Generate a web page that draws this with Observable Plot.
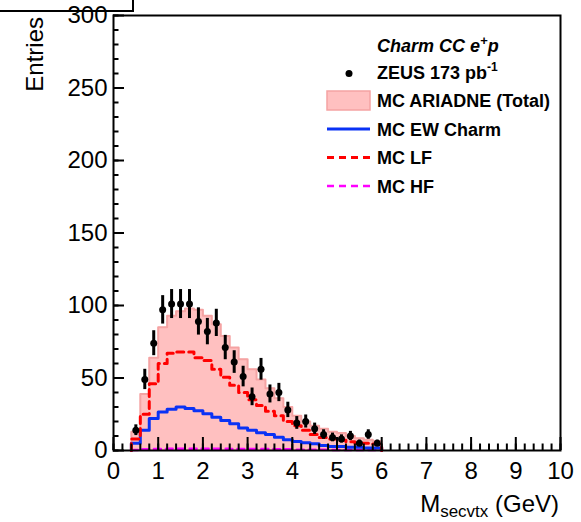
<!DOCTYPE html>
<html><head><meta charset="utf-8">
<script src="https://cdn.jsdelivr.net/npm/d3@7"></script>
<script src="https://cdn.jsdelivr.net/npm/@observablehq/plot@0.6"></script>
<style>body{margin:0;background:#fff;} svg{display:block}</style>
</head><body><div id="chart"></div>
<script>
// ---- data (bins of 0.2 GeV) ----
const binEdges = [0.4,0.6,0.8,1.0,1.2,1.4,1.6,1.8,2.0,2.2,2.4,2.6,2.8,3.0,3.2,3.4,3.6,3.8,4.0,4.2,4.4,4.6,4.8,5.0,5.2,5.4,5.6,5.8,6.0];
const zeusCounts = [14,49,74,97,101,101,101,89,82,88,71,61,51,37,56,39,40,28,19,20,15,11,9,8,10,5,11,5];
const zeusErrors = [3.7,7.0,8.6,9.8,10.0,10.0,10.0,9.4,9.1,9.4,8.4,7.8,7.1,6.1,7.5,6.2,6.3,5.3,4.4,4.5,3.9,3.3,3.0,2.8,3.2,2.2,3.3,2.2];
const mcTotal = [13,39,64,85,93,96,98,97,93,87,79,71,63,56,49,43,36,30,24,20,17,15,13,12,10,8.5,7.5,6.5];
const mcEWCharm = [5,14,22,26.5,28.5,30,29,27.5,25.3,23,20.7,18.5,15.6,14,12.2,11,9.2,7.4,6.2,5.3,4.6,3.4,2.8,2.8,2.3,2.3,1.8,1.8];
const mcLF = [8,25,46,60,67,68,68,64,62,56,50.5,45,40,35,31,27,24,20,17,14,11,9,8,7,6,5,5,4.5];
const mcHF = [0.3,0.8,1,1,1.2,1.2,1.2,1.2,1.2,1.2,1.2,1,1,1,1,1,0.8,0.8,0.6,0.6,0.5,0.5,0.4,0.4,0.3,0.3,0.3,0.3];
const xTickLabels = [0,1,2,3,4,5,6,7,8,9,10];
const yTickLabels = [0,50,100,150,200,250,300];
const legendTitle = ["Charm CC e", "+", "p"];
const legendLabels = ["ZEUS 173 pb", "MC ARIADNE (Total)", "MC EW Charm", "MC LF", "MC HF"];

// ---- layout ----
const W = 581, H = 522, mL = 113, mR = 21, mT = 15, mB = 72;
const pxX = 10 / (W - mL - mR), pxY = 300 / (H - mT - mB);
const FF = "'Liberation Sans', Arial, Helvetica, sans-serif";

function steps(vals) {
  const pts = [{x: binEdges[0], y: 0}];
  vals.forEach((v, i) => { pts.push({x: binEdges[i], y: v}); pts.push({x: binEdges[i + 1], y: v}); });
  pts.push({x: binEdges[binEdges.length - 1], y: 0});
  return pts;
}
const points = zeusCounts.map((v, i) => ({
  x: (binEdges[i] + binEdges[i + 1]) / 2, y: v, lo: v - zeusErrors[i], hi: v + zeusErrors[i]
}));
const xMinor = d3.range(0, 50.5, 1).map(k => k / 5);
const yMinor = d3.range(0, 301, 10);

const plot = Plot.plot({
  width: W, height: H, marginLeft: mL, marginRight: mR, marginTop: mT, marginBottom: mB,
  style: {fontFamily: FF, fontSize: "24px", background: "#fff", color: "#000"},
  x: {domain: [0, 10], ticks: xTickLabels, tickSize: 0, tickPadding: 11, label: null, tickFormat: d => String(d)},
  y: {domain: [0, 300], ticks: yTickLabels, tickSize: 0, tickPadding: 6, label: null, tickFormat: d => String(d)},
  marks: [
    Plot.area(steps(mcTotal), {x1: "x", y1: 0, y2: "y", fill: "#ffc0c0"}),
    Plot.line(steps(mcTotal), {x: "x", y: "y", stroke: "#f5a3a3", strokeWidth: 2}),
    Plot.line(steps(mcHF), {x: "x", y: "y", stroke: "#ff00ff", strokeWidth: 2.5, strokeDasharray: "7,5"}),
    Plot.line(steps(mcEWCharm), {x: "x", y: "y", stroke: "#0a32f5", strokeWidth: 3}),
    Plot.line(steps(mcLF), {x: "x", y: "y", stroke: "#ff0000", strokeWidth: 3, strokeDasharray: "7,5"}),
    Plot.ruleX(xMinor, {x: d => d, y1: 0, y2: 6.5 * pxY, strokeWidth: 2}),
    Plot.ruleX(xTickLabels, {x: d => d, y1: 0, y2: 13 * pxY, strokeWidth: 2}),
    Plot.ruleY(yMinor, {y: d => d, x1: 0, x2: 5.5 * pxX, strokeWidth: 2}),
    Plot.ruleY(yTickLabels, {y: d => d, x1: 0, x2: 11 * pxX, strokeWidth: 2}),
    Plot.ruleX(points, {x: "x", y1: "lo", y2: "hi", strokeWidth: 3}),
    Plot.dot(points, {x: "x", y: "y", r: 3.5, fill: "#000"}),
    Plot.frame({stroke: "#000", strokeWidth: 2})
  ]
});
document.getElementById("chart").appendChild(plot);

const svg = d3.select(plot);
// top-left box
svg.append("rect").attr("x", -3).attr("y", -3).attr("width", 136).attr("height", 14)
  .attr("fill", "none").attr("stroke", "#000").attr("stroke-width", 2);
// axis titles
svg.append("text").attr("transform", "translate(43,17) rotate(-90)").attr("text-anchor", "end")
  .attr("font-family", FF).attr("font-size", 24).attr("fill", "#000").text("Entries");
const xt = svg.append("text").attr("x", 559).attr("y", 512).attr("text-anchor", "end")
  .attr("font-family", FF).attr("font-size", 24).attr("fill", "#000");
xt.append("tspan").text("M");
xt.append("tspan").attr("font-size", 17).attr("dy", 5).text("secvtx");
xt.append("tspan").attr("dy", -5).text(" (GeV)");

// legend
const lx = 377, mx0 = 327, mx1 = 370, row0 = 78.5, rowH = 28.5;
const t = svg.append("text").attr("x", lx).attr("y", 52).attr("font-family", FF).attr("font-size", 18)
  .attr("text-anchor", "start").attr("font-weight", "bold").attr("font-style", "italic").attr("fill", "#000");
t.append("tspan").text(legendTitle[0]);
t.append("tspan").attr("font-size", 13).attr("dy", -7).text(legendTitle[1]);
t.append("tspan").attr("dy", 7).text(legendTitle[2]);
legendLabels.forEach((lab, i) => {
  const yb = row0 + i * rowH;
  const tx = svg.append("text").attr("x", lx).attr("y", yb).attr("font-family", FF).attr("font-size", 18)
    .attr("text-anchor", "start").attr("font-weight", "bold").attr("fill", "#000");
  tx.append("tspan").text(lab);
  if (i === 0) tx.append("tspan").attr("font-size", 12).attr("dy", -8).text("-1");
  const ym = yb - 6.5;
  if (i === 0) svg.append("circle").attr("cx", 349).attr("cy", ym + 1.5).attr("r", 3.5).attr("fill", "#000");
  if (i === 1) svg.append("rect").attr("x", mx0).attr("y", ym - 9.5).attr("width", mx1 - mx0).attr("height", 19)
    .attr("fill", "#ffc0c0").attr("stroke", "#f5a3a3").attr("stroke-width", 1.5);
  if (i === 2) svg.append("line").attr("x1", mx0).attr("x2", mx1).attr("y1", ym).attr("y2", ym)
    .attr("stroke", "#0a32f5").attr("stroke-width", 3);
  if (i === 3) svg.append("line").attr("x1", mx0).attr("x2", mx1).attr("y1", ym).attr("y2", ym)
    .attr("stroke", "#ff0000").attr("stroke-width", 3).attr("stroke-dasharray", "7,5");
  if (i === 4) svg.append("line").attr("x1", mx0).attr("x2", mx1).attr("y1", ym).attr("y2", ym)
    .attr("stroke", "#ff00ff").attr("stroke-width", 2.5).attr("stroke-dasharray", "7,5");
});
</script></body></html>
